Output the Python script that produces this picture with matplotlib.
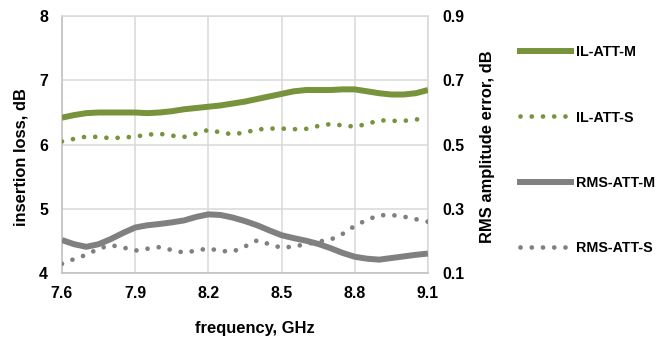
import matplotlib
matplotlib.use("Agg")
import matplotlib.pyplot as plt
from matplotlib.lines import Line2D

plt.rcParams['font.family'] = ['Liberation Sans', 'DejaVu Sans']
plt.rcParams['font.weight'] = 'bold'

# frequency grid, GHz
freq = [7.60, 7.65, 7.70, 7.75, 7.80, 7.85, 7.90, 7.95, 8.00, 8.05, 8.10,
        8.15, 8.20, 8.25, 8.30, 8.35, 8.40, 8.45, 8.50, 8.55, 8.60, 8.65,
        8.70, 8.75, 8.80, 8.85, 8.90, 8.95, 9.00, 9.05, 9.10]

# insertion loss, dB (left axis)
il_att_m = [6.42, 6.46, 6.49, 6.50, 6.50, 6.50, 6.50, 6.49, 6.50, 6.52, 6.55,
            6.57, 6.59, 6.61, 6.64, 6.67, 6.71, 6.75, 6.79, 6.83, 6.85, 6.85,
            6.85, 6.86, 6.86, 6.83, 6.80, 6.78, 6.78, 6.80, 6.85]
il_att_s = [6.05, 6.09, 6.125, 6.12, 6.10, 6.11, 6.125, 6.155, 6.17, 6.14, 6.12,
            6.17, 6.23, 6.19, 6.16, 6.19, 6.235, 6.25, 6.25, 6.24, 6.245, 6.29,
            6.32, 6.30, 6.28, 6.32, 6.38, 6.37, 6.37, 6.39, 6.42]

# RMS amplitude error, dB (right axis)
rms_att_m = [0.203, 0.190, 0.182, 0.190, 0.206, 0.225, 0.242, 0.249, 0.253, 0.258, 0.264,
             0.275, 0.283, 0.281, 0.273, 0.262, 0.249, 0.233, 0.218, 0.209, 0.201, 0.191,
             0.178, 0.163, 0.151, 0.145, 0.142, 0.147, 0.152, 0.157, 0.161]
rms_att_s = [0.129, 0.144, 0.157, 0.176, 0.187, 0.180, 0.170, 0.176, 0.181, 0.172, 0.164,
             0.170, 0.177, 0.169, 0.167, 0.183, 0.202, 0.190, 0.179, 0.183, 0.190, 0.198,
             0.204, 0.222, 0.247, 0.266, 0.280, 0.281, 0.276, 0.268, 0.260]

x_ticks = [7.6, 7.9, 8.2, 8.5, 8.8, 9.1]
il_ticks = [4, 5, 6, 7, 8]
rms_ticks = [0.1, 0.3, 0.5, 0.7, 0.9]

GREEN = '#77933C'
GRAY = '#808080'
GRID = '#D9D9D9'
DOT = (0, (0.01, 2.37))
SOLID_W = 4.3
DOT_W = 3.4

fig = plt.figure(figsize=(6.59, 3.41), dpi=100)
ax = fig.add_axes([0.094, 0.199, 0.5554, 0.7537])
ax2 = ax.twinx()

ax.plot(freq, il_att_m, color=GREEN, lw=SOLID_W, solid_capstyle='butt', zorder=3)
ax.plot(freq, il_att_s, color=GREEN, lw=DOT_W, linestyle=DOT,
        dash_capstyle='round', zorder=3)
ax2.plot(freq, rms_att_m, color=GRAY, lw=SOLID_W, solid_capstyle='butt', zorder=3)
ax2.plot(freq, rms_att_s, color=GRAY, lw=DOT_W, linestyle=DOT,
         dash_capstyle='round', zorder=3)

ax.set_xlim(7.6, 9.1)
ax.set_ylim(4, 8)
ax2.set_ylim(0.1, 0.9)
ax.set_xticks(x_ticks)
ax.set_xticklabels([f"{v:.1f}" for v in x_ticks])
ax.set_yticks(il_ticks)
ax2.set_yticks(rms_ticks)
ax2.set_yticklabels([f"{v:.1f}" for v in rms_ticks])

ax.grid(True, color=GRID, lw=1.1)
ax.set_axisbelow(True)
for s in ['top', 'right']:
    ax.spines[s].set_color(GRID)
    ax.spines[s].set_linewidth(1.1)
for s in ['left', 'bottom']:
    ax.spines[s].set_color('#BFBFBF')
    ax.spines[s].set_linewidth(1.1)
for s in ax2.spines.values():
    s.set_visible(False)

ax.tick_params(axis='x', length=0, labelsize=11.4, pad=9)
ax.tick_params(axis='y', length=0, labelsize=11.4, pad=10)
ax2.tick_params(axis='y', length=0, labelsize=11.4, pad=10.5)

fig.text(21 / 659, 1 - 157 / 341, "insertion loss, dB", rotation=90,
         ha='center', va='center', fontsize=11.9, fontweight='bold')
fig.text(488 / 659, 1 - 147 / 341, "RMS amplitude error, dB", rotation=90,
         ha='center', va='center', fontsize=11.9, fontweight='bold')
fig.text(255 / 659, 1 - 328 / 341, "frequency, GHz",
         ha='center', va='center', fontsize=11.9, fontweight='bold')

handles = [
    Line2D([], [], color=GREEN, lw=SOLID_W),
    Line2D([], [], color=GREEN, lw=DOT_W, linestyle=DOT, dash_capstyle='round'),
    Line2D([], [], color=GRAY, lw=SOLID_W),
    Line2D([], [], color=GRAY, lw=DOT_W, linestyle=DOT, dash_capstyle='round'),
]
labels = ["IL-ATT-M", "IL-ATT-S", "RMS-ATT-M", "RMS-ATT-S"]
fig.legend(handles, labels, loc='upper left', bbox_to_anchor=(520 / 659, 1 - 45 / 341),
           frameon=False, fontsize=10.3, labelspacing=3.6, handlelength=3.56,
           handletextpad=0.33, borderpad=0, borderaxespad=0)

fig.savefig("out.png", dpi=100)
